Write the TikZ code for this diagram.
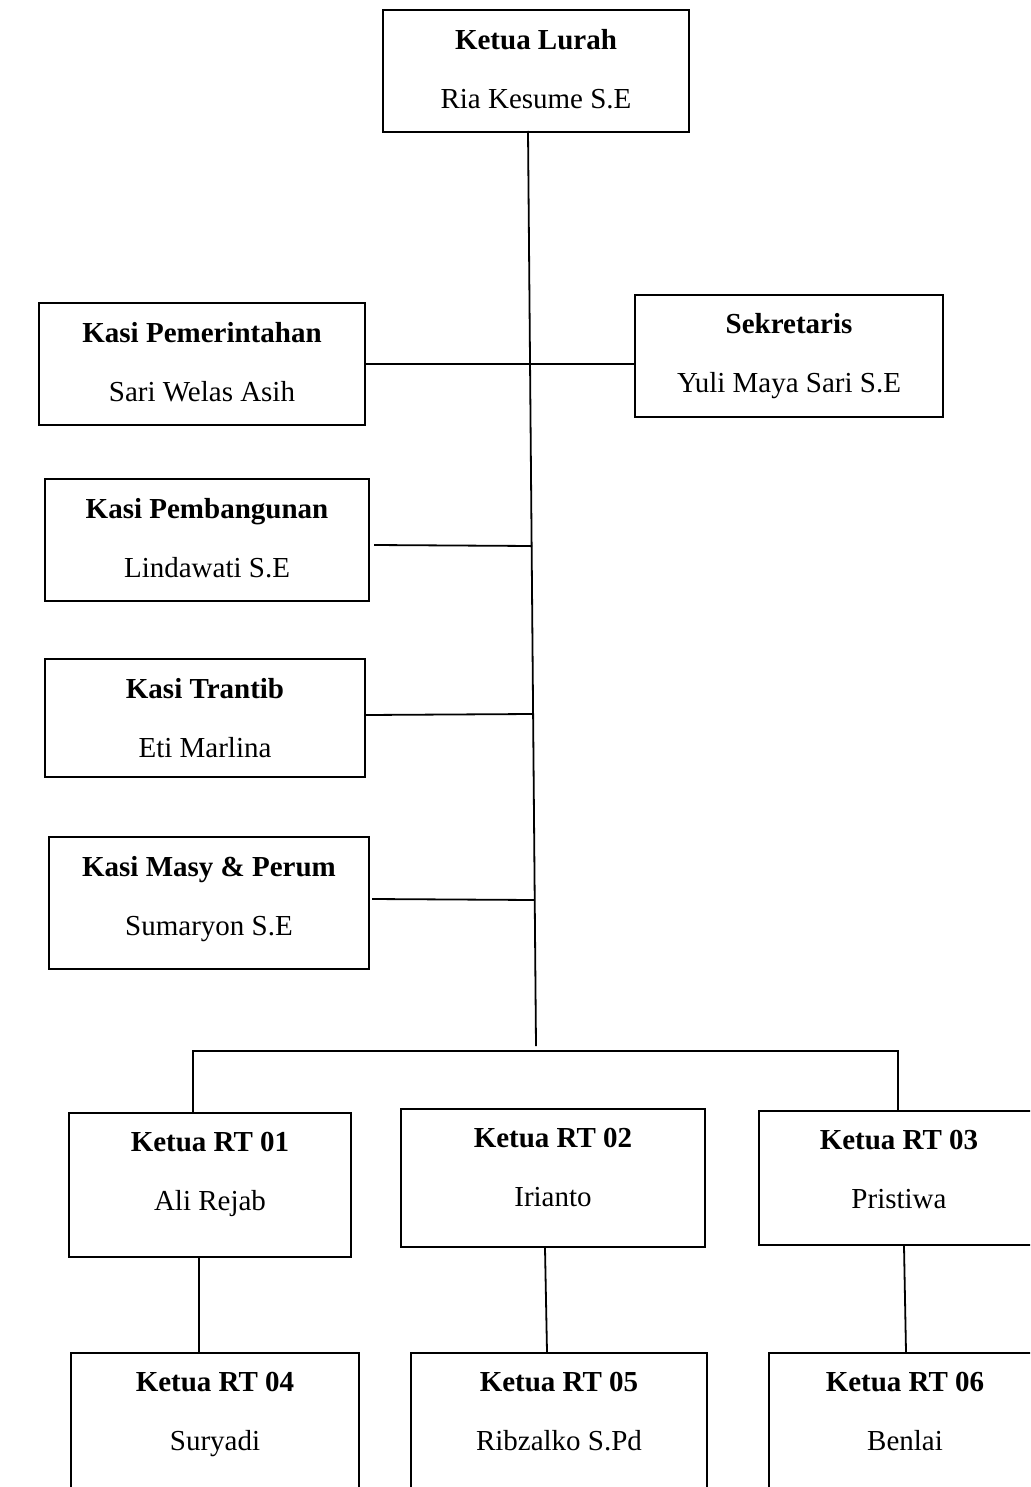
\documentclass[tikz,border=0pt]{standalone}
\usepackage{fontspec}
\setmainfont{Liberation Serif}
\usetikzlibrary{positioning,calc}
\tikzset{
  post/.style={draw, line width=2pt, align=center, anchor=north west,
    font=\fontsize{29}{35}\selectfont},
  link/.style={line width=1.8pt},
}
\newcommand{\jabatan}[3][0pt]{\textbf{#2}\\[24pt]#3\rule[-#1]{0pt}{#1}}

\begin{document}
\begin{tikzpicture}[x=1pt, y=-1pt]
    \useasboundingbox (0,0) rectangle (1030,1487);
    \clip (0,0) rectangle (1030,1487);
    \node[post, minimum width=306pt, minimum height=122pt] (lurah) at (382,9) {\jabatan[5pt]{Ketua Lurah}{Ria Kesume S.E}};
    \node[post, minimum width=326pt, minimum height=122pt] (pemerintahan) at (38,302) {\jabatan[5pt]{Kasi Pemerintahan}{Sari Welas Asih}};
    \node[post, minimum width=308pt, minimum height=122pt] (sekretaris) at (634,294) {\jabatan[5pt]{Sekretaris}{Yuli Maya Sari S.E}};
    \node[post, minimum width=324pt, minimum height=122pt] (pembangunan) at (44,478) {\jabatan[5pt]{Kasi Pembangunan}{Lindawati S.E}};
    \node[post, minimum width=320pt, minimum height=118pt] (trantib) at (44,658) {\jabatan{Kasi Trantib}{Eti Marlina}};
    \node[post, minimum width=320pt, minimum height=132pt] (masy) at (48,836) {\jabatan[15pt]{Kasi Masy \& Perum}{Sumaryon S.E}};
    \node[post, minimum width=282pt, minimum height=144pt] (rt1) at (68,1112) {\jabatan[27pt]{Ketua RT 01}{Ali Rejab}};
    \node[post, minimum width=304pt, minimum height=138pt] (rt2) at (400,1108) {\jabatan[21pt]{Ketua RT 02}{Irianto}};
    \node[post, minimum width=280pt, minimum height=134pt] (rt3) at (758,1110) {\jabatan[17pt]{Ketua RT 03}{Pristiwa}};
    \node[post, minimum width=288pt, minimum height=200pt] (rt4) at (70,1352) {\jabatan[83pt]{Ketua RT 04}{Suryadi}};
    \node[post, minimum width=296pt, minimum height=200pt] (rt5) at (410,1352) {\jabatan[83pt]{Ketua RT 05}{Ribzalko S.Pd}};
    \node[post, minimum width=272pt, minimum height=200pt] (rt6) at (768,1352) {\jabatan[83pt]{Ketua RT 06}{Benlai}};
    % trunk and side branches
    \coordinate (trunk top) at (528,131);
    \coordinate (trunk end) at (536,1046);
    \coordinate (j2) at (532,546);
    \coordinate (j3) at (532,714);
    \coordinate (j4) at (534,900);
    \draw[link] (trunk top) -- (trunk end);
    \draw[link] (pemerintahan.east) -- (pemerintahan.east -| sekretaris.west);
    \draw[link] ([xshift=4pt, yshift=-5pt]pembangunan.east) -- (j2);
    \draw[link] ([yshift=3pt]trantib.east) -- (j3);
    \draw[link] ([xshift=2pt, yshift=4pt]masy.east) -- (j4);
    % RT bar
    \coordinate (barW) at (193,1051);
    \coordinate (barE) at (898,1051);
    \draw[link] (barW |- rt1.north) -- (barW) -- (barE) -- (barE |- rt3.north);
    \draw[link] ([xshift=-11pt]rt1.south) -- ([xshift=-16pt]rt4.north);
    \draw[link] ([xshift=-8pt]rt2.south) -- ([xshift=-12pt]rt5.north);
    \draw[link] ([xshift=5pt]rt3.south) -- ([xshift=1pt]rt6.north);
  \end{tikzpicture}
\end{document}
